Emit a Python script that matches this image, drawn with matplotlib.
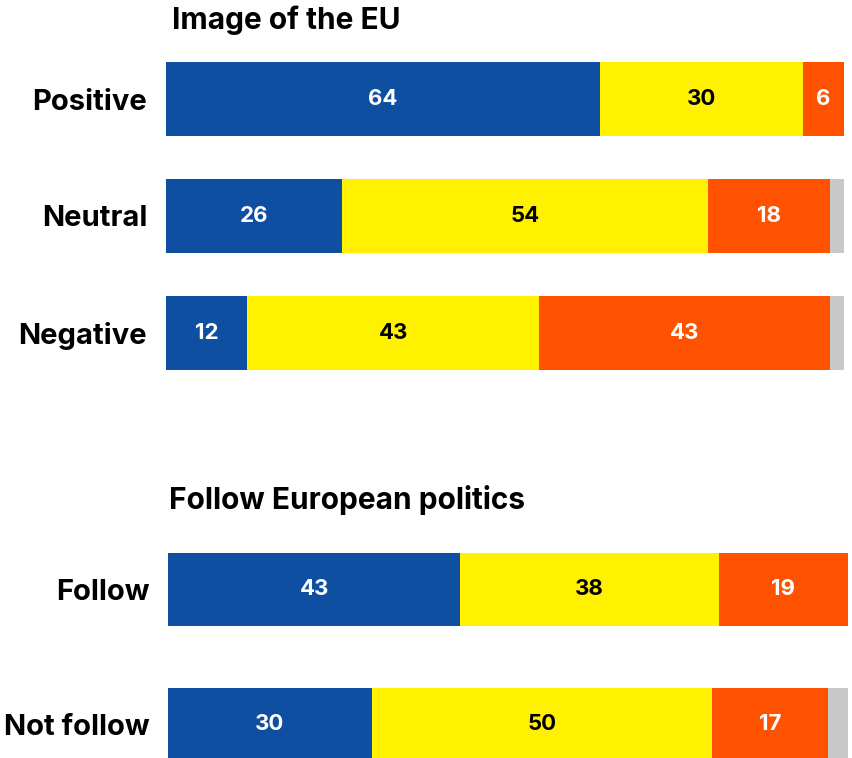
import matplotlib.pyplot as plt

plt.rcParams['font.family'] = ['Inter', 'DejaVu Sans']
plt.rcParams['font.weight'] = 'bold'

# data
image_labels = ['Positive', 'Neutral', 'Negative']
image_pos = [64, 26, 12]
image_neu = [30, 54, 43]
image_neg = [6, 18, 43]
image_other = [0, 2, 2]

follow_labels = ['Follow', 'Not follow']
follow_pos = [43, 30]
follow_neu = [38, 50]
follow_neg = [19, 17]
follow_other = [0, 3]

colors = ['#0e4fa2', '#fff100', '#ff5200', '#c8c8c8']
text_colors = ['white', 'black', 'white', None]

W, H = 853, 758
fig = plt.figure(figsize=(W / 100, H / 100), dpi=100)


def panel(left, right, top, bottom, labels, series, bar_frac):
    ax = fig.add_axes([left / W, 1 - bottom / H, (right - left) / W, (bottom - top) / H])
    n = len(labels)
    half = bar_frac / 2
    ys = list(range(n))
    starts = [0] * n
    for vals, col, tcol in zip(series, colors, text_colors):
        ax.barh(ys, vals, left=starts, height=bar_frac, color=col, edgecolor='none')
        if tcol:
            for y, s, v in zip(ys, starts, vals):
                if v > 0:
                    ax.text(s + v / 2, y, str(v), ha='center', va='center',
                            color=tcol, fontsize=16, fontweight='bold')
        starts = [s + v for s, v in zip(starts, vals)]
    ax.set_xlim(0, 100)
    ax.set_ylim(n - 1 + half, -half)
    ax.set_yticks(ys)
    ax.set_yticklabels(labels, fontsize=21, fontweight='bold')
    ax.tick_params(axis='y', length=0, pad=13.5)
    ax.set_xticks([])
    for sp in ax.spines.values():
        sp.set_visible(False)
    return ax


panel(166, 844, 62, 370, image_labels,
      [image_pos, image_neu, image_neg, image_other], 74 / 117)
panel(168, 848, 553, 761, follow_labels,
      [follow_pos, follow_neu, follow_neg, follow_other], 73 / 135)

fig.text(172 / W, 1 - 20 / H, 'Image of the EU', ha='left', va='center',
         fontsize=21.5, fontweight='bold')
fig.text(169 / W, 1 - 500 / H, 'Follow European politics', ha='left', va='center',
         fontsize=21.5, fontweight='bold')

fig.savefig('out.png', dpi=100)
